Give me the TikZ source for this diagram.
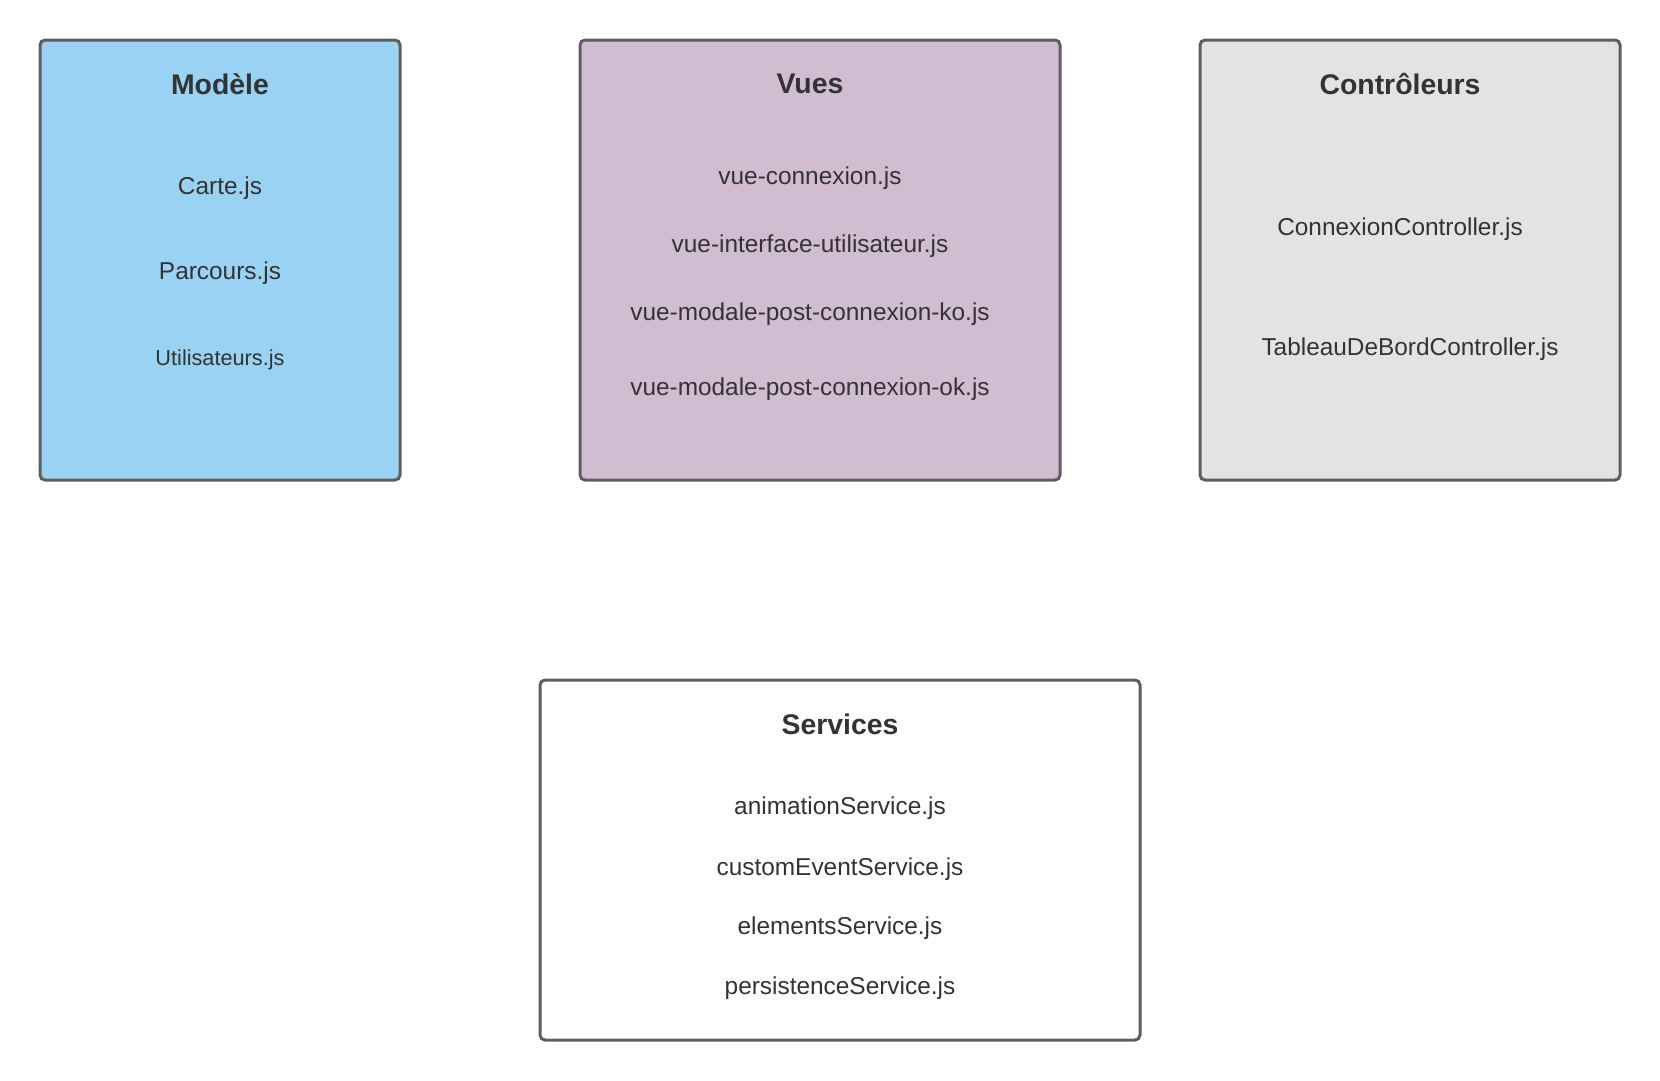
\documentclass[tikz,border=0pt]{standalone}
\usepackage{fontspec}
\setmainfont{Liberation Sans}
\definecolor{bordergray}{HTML}{5E5E5E}
\definecolor{textgray}{HTML}{333333}
\definecolor{modfill}{HTML}{99D2F2}
\definecolor{vuefill}{HTML}{D1BCD2}
\definecolor{ctlfill}{HTML}{E3E3E3}
\begin{document}
\begin{tikzpicture}[x=1pt,y=-1pt,
  box/.style={draw=bordergray, line width=3pt, rounded corners=5pt, inner sep=0pt},
  item/.style={text=textgray, font=\fontsize{24.4}{28}\selectfont, inner sep=0pt},
  smallitem/.style={text=textgray, font=\fontsize{21.7}{26}\selectfont, inner sep=0pt},
  title/.style={text=textgray, font=\fontsize{28.4}{32}\selectfont\bfseries, inner sep=0pt}]
\fill[white] (0,0) rectangle (1660,1080);
\useasboundingbox (0,0) rectangle (1660,1080);

% Modele
\node[box, fill=modfill, minimum width=360pt, minimum height=440pt] (modele) at (220,260) {};
\node[title] (tmodele) at (220,84) {Modèle};
\node[item] (carte) at (220,188) {Carte.js};
\node[item] (parcours) at (220,273) {Parcours.js};
\node[smallitem] (utilisateurs) at (220,360) {Utilisateurs.js};

% Vues
\node[box, fill=vuefill, minimum width=480pt, minimum height=440pt] (vues) at (820,260) {};
\node[title] (tvues) at (810,84) {Vues};
\node[item] (v1) at (810,178) {vue-connexion.js};
\node[item] (v2) at (810,246) {vue-interface-utilisateur.js};
\node[item] (v3) at (810,314) {vue-modale-post-connexion-ko.js};
\node[item] (v4) at (810,389) {vue-modale-post-connexion-ok.js};

% Controleurs
\node[box, fill=ctlfill, minimum width=420pt, minimum height=440pt] (ctl) at (1410,260) {};
\node[title] (tctl) at (1400,84) {Contrôleurs};
\node[item] (c1) at (1400,229) {ConnexionController.js};
\node[item] (c2) at (1410,349) {TableauDeBordController.js};

% Services
\node[box, fill=white, minimum width=600pt, minimum height=360pt] (services) at (840,860) {};
\node[title] (tserv) at (840,724) {Services};
\node[item] (s1) at (840,808) {animationService.js};
\node[item] (s2) at (840,869) {customEventService.js};
\node[item] (s3) at (840,928) {elementsService.js};
\node[item] (s4) at (840,988) {persistenceService.js};
\end{tikzpicture}
\end{document}
